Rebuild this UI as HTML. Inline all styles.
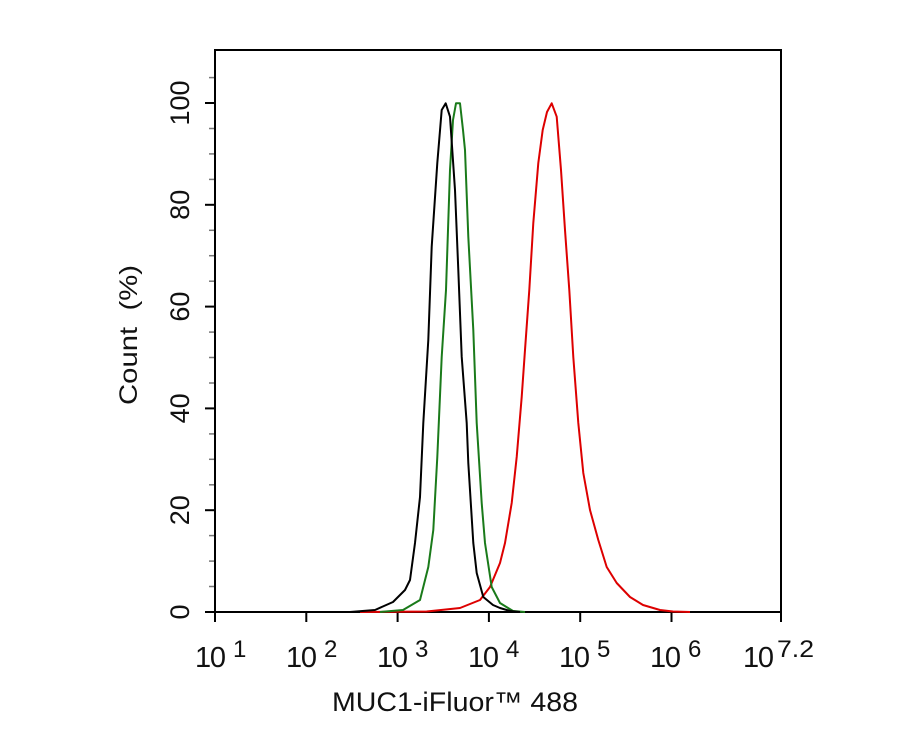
<!DOCTYPE html>
<html><head><style>
body{margin:0;background:#fff;}
text{font-family:"Liberation Sans",Arial,sans-serif;fill:#111;}
</style></head><body>
<svg width="913" height="730" viewBox="0 0 913 730" xmlns="http://www.w3.org/2000/svg">
<rect x="215" y="50" width="566" height="562" fill="none" stroke="#000" stroke-width="2"/>
<g stroke="#000" stroke-width="2">
<line x1="205" y1="612" x2="215" y2="612"/><line x1="205" y1="510.2" x2="215" y2="510.2"/><line x1="205" y1="408.4" x2="215" y2="408.4"/><line x1="205" y1="306.6" x2="215" y2="306.6"/><line x1="205" y1="204.8" x2="215" y2="204.8"/><line x1="205" y1="103" x2="215" y2="103"/>
<line x1="215" y1="612" x2="215" y2="622"/><line x1="306.3" y1="612" x2="306.3" y2="622"/><line x1="397.6" y1="612" x2="397.6" y2="622"/><line x1="488.9" y1="612" x2="488.9" y2="622"/><line x1="580.2" y1="612" x2="580.2" y2="622"/><line x1="671.5" y1="612" x2="671.5" y2="622"/><line x1="781" y1="612" x2="781" y2="622"/>
</g>
<g stroke="#777" stroke-width="1.5">
<line x1="209" y1="586.5" x2="214" y2="586.5"/><line x1="209" y1="561.1" x2="214" y2="561.1"/><line x1="209" y1="535.6" x2="214" y2="535.6"/>
<line x1="209" y1="484.8" x2="214" y2="484.8"/><line x1="209" y1="459.3" x2="214" y2="459.3"/><line x1="209" y1="433.9" x2="214" y2="433.9"/>
<line x1="209" y1="383" x2="214" y2="383"/><line x1="209" y1="357.5" x2="214" y2="357.5"/><line x1="209" y1="332.1" x2="214" y2="332.1"/>
<line x1="209" y1="281.2" x2="214" y2="281.2"/><line x1="209" y1="255.7" x2="214" y2="255.7"/><line x1="209" y1="230.3" x2="214" y2="230.3"/>
<line x1="209" y1="179.4" x2="214" y2="179.4"/><line x1="209" y1="153.9" x2="214" y2="153.9"/><line x1="209" y1="128.5" x2="214" y2="128.5"/>
<line x1="209" y1="77.6" x2="214" y2="77.6"/>
</g>
<g stroke="#777" stroke-width="1.5" id="xminor"></g>
<g font-size="27" text-anchor="middle">
<text transform="translate(189,612) rotate(-90)">0</text>
<text transform="translate(189,510.2) rotate(-90)">20</text>
<text transform="translate(189,408.4) rotate(-90)">40</text>
<text transform="translate(189,306.6) rotate(-90)">60</text>
<text transform="translate(189,204.8) rotate(-90)">80</text>
<text transform="translate(189,103) rotate(-90)">100</text>
<text transform="translate(137,335) rotate(-90)" font-size="25" textLength="140" lengthAdjust="spacingAndGlyphs" xml:space="preserve">Count  (%)</text>
</g>
<g font-size="29">
<text x="195" y="667" textLength="31">10</text><text x="233" y="657" font-size="24">1</text>
<text x="286" y="667" textLength="31">10</text><text x="324" y="657" font-size="24">2</text>
<text x="377" y="667" textLength="31">10</text><text x="415" y="657" font-size="24">3</text>
<text x="468" y="667" textLength="31">10</text><text x="506" y="657" font-size="24">4</text>
<text x="559" y="667" textLength="31">10</text><text x="597" y="657" font-size="24">5</text>
<text x="650" y="667" textLength="31">10</text><text x="688" y="657" font-size="24">6</text>
<text x="743" y="667" textLength="31">10</text><text x="777" y="657" font-size="24" textLength="37" lengthAdjust="spacingAndGlyphs">7.2</text>
<text x="332" y="711" font-size="27" textLength="246" lengthAdjust="spacingAndGlyphs">MUC1-iFluor™ 488</text>
</g>
<g fill="none" stroke-width="2" stroke-linejoin="round">
<polyline stroke="#dd0000" points="360,612 426.7,611.5 460,608 480,600 490,587 500,563 505,543 511.7,503 516.7,457 521.7,397 525,350 529.3,290 533.3,223 538.3,163 542.7,130 547,112 551.7,103.3 556.7,116.7 561,170 565,230 569.3,290 573.3,357 578.3,423 583.3,473 590,510 598.3,540 606.7,567 616.7,583 630,597 643,605 660,610 673,611.5 690,612"/>
<polyline stroke="#1a7a1a" points="380,612 403,610 420,600 428.3,567 433.3,530 437.3,457 441.7,357 446,290 450,170 453,120 456,103.3 460,103.3 463,130 465,150 468.3,236.7 473.3,330 476.7,423 481.7,503 485,543 491.7,587 500,603 513,611 525,612"/>
<polyline stroke="#000" points="350,612 375,610 393,602 405,590 410,580 415,543 420,497 423.3,423 428.3,340 431.7,246.7 437.3,163 441.7,110 445.7,103.3 450,116.7 455,190 458.3,270 461.7,356.7 466.7,423 468.3,463 473.3,543 476.7,573 483.3,597 493,605 500,608 510,611 520,612"/>
</g>
<script>
var g=document.getElementById('xminor'),s='';
for(var d=1;d<=7;d++){for(var m=2;m<=9;m++){var x=215+(d-1+Math.log10(m))*91.29;if(x<781)s+='<line x1="'+x+'" y1="613" x2="'+x+'" y2="617"/>';}}
g.innerHTML=s;
</script>
</svg>
</body></html>
